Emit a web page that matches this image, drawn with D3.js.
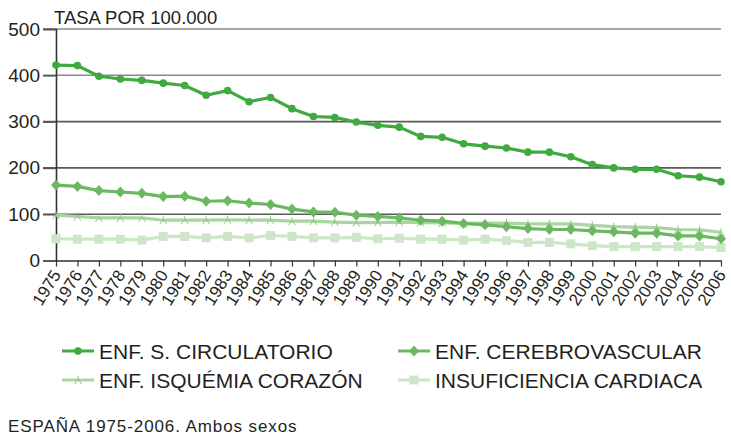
<!doctype html>
<html lang="es">
  <head>
    <meta charset="utf-8">
    <title>Tasa por 100.000 - España 1975-2006</title>
    <script src="https://d3js.org/d3.v7.min.js"></script>
    <style>
      body {
        margin: 0;
        font-family: 'Liberation Sans', Arial, sans-serif;
        background: #fff;
      }
      text { fill: #231f20; }
    </style>
  </head>
  <body>
    <div id="root"></div>
  </body>
  <script>

    //data:
    const years = d3.range(1975, 2007);
    const circulatorio = [422, 421, 398, 392, 389, 383, 378, 357, 367, 343, 352, 328, 311, 309, 299, 292,
      288, 268, 266, 252, 247, 243, 234, 234, 224, 207, 200, 197, 197, 183, 180, 170];
    const cerebrovascular = [163, 160, 151, 148, 145, 138, 139, 128, 129, 124, 121, 111, 105, 104, 98, 95,
      92, 87, 85, 80, 77, 73, 69, 67, 67, 64, 62, 59, 59, 53, 53, 47];
    const isquemia = [98, 95, 92, 92, 92, 87, 87, 87, 88, 87, 87, 85, 85, 83, 82, 82,
      83, 82, 81, 80, 81, 81, 79, 79, 79, 76, 73, 72, 71, 67, 66, 61];
    const insuficiencia = [47, 46, 46, 46, 44, 52, 52, 49, 52, 49, 54, 52, 49, 49, 50, 47,
      48, 46, 46, 44, 46, 43, 39, 39, 36, 32, 30, 30, 30, 30, 30, 28];
    const yTicks = [0, 100, 200, 300, 400, 500];

    const series = [
      { name: 'ENF. S. CIRCULATORIO', values: circulatorio, color: '#3faa3f', symbol: 'circle' },
      { name: 'ENF. CEREBROVASCULAR', values: cerebrovascular, color: '#6cb862', symbol: 'diamond' },
      { name: 'ENF. ISQUÉMIA CORAZÓN', values: isquemia, color: '#a9d6a0', symbol: 'x' },
      { name: 'INSUFICIENCIA CARDIACA', values: insuficiencia, color: '#cde6c7', symbol: 'square' }
    ];

    //constants:
    const width = 731;
    const height = 437;
    const plotLeft = 56, plotRight = 721, plotTop = 29, plotBottom = 260.5;

    //scales:
    const xScale = d3.scaleLinear().domain([1975, 2006]).range([plotLeft, plotRight]);
    const yScale = d3.scaleLinear().domain([0, 500]).range([plotBottom, plotTop]);

    const svg = d3.select('#root')
      .append('svg')
      .attr('width', width)
      .attr('height', height);

    //grid:
    svg.append('g')
      .selectAll('line')
      .data(yTicks.filter(d => d > 0))
      .enter()
      .append('line')
      .attr('x1', 43)
      .attr('x2', plotRight)
      .attr('y1', d => yScale(d))
      .attr('y2', d => yScale(d))
      .attr('stroke', d => d >= 400 ? '#8a8a8a' : '#5a5a5a')
      .attr('stroke-width', 1.6);

    //y axis:
    const yAxis = svg.append('g')
      .attr('transform', `translate(${plotLeft}, 0)`)
      .call(d3.axisLeft(yScale).tickValues(yTicks).tickSize(13).tickPadding(3));
    yAxis.select('.domain').attr('stroke', '#333').attr('stroke-width', 1.6);
    yAxis.selectAll('.tick line').attr('stroke', '#555').attr('stroke-width', 1.6);
    yAxis.selectAll('text')
      .attr('font-size', 19)
      .attr('font-family', "'Liberation Sans', Arial, sans-serif")
      .attr('fill', '#231f20');

    //x axis:
    const xAxis = svg.append('g')
      .attr('transform', `translate(0, ${plotBottom})`)
      .call(d3.axisBottom(xScale).tickValues(years).tickFormat(d3.format('d')).tickSize(6).tickSizeOuter(0));
    xAxis.select('.domain').attr('stroke', '#333').attr('stroke-width', 1.6);
    xAxis.selectAll('.tick line').attr('stroke', '#333').attr('stroke-width', 1.2);
    xAxis.selectAll('text')
      .attr('font-size', 17)
      .attr('font-family', "'Liberation Sans', Arial, sans-serif")
      .attr('fill', d => d === 1996 ? '#3faa3f' : '#231f20')
      .attr('text-anchor', 'end')
      .attr('y', 0)
      .attr('dy', '0.35em')
      .attr('transform', 'translate(0, 11) rotate(-58)');

    svg.append('text')
      .attr('x', 54)
      .attr('y', 24)
      .attr('font-size', 18.5)
      .text('TASA POR 100.000');

    //symbols:
    function drawSymbol(g, type, color, x, y) {
      if (type === 'circle') {
        g.append('circle').attr('cx', x).attr('cy', y).attr('r', 3.8).attr('fill', color);
      } else if (type === 'diamond') {
        g.append('path')
          .attr('d', `M${x},${y - 5.5}L${x + 5},${y}L${x},${y + 5.5}L${x - 5},${y}Z`)
          .attr('fill', color);
      } else if (type === 'square') {
        g.append('rect').attr('x', x - 4.5).attr('y', y - 4.5).attr('width', 9).attr('height', 9).attr('fill', color);
      } else {
        g.append('path')
          .attr('d', `M${x - 3.5},${y + 4}L${x},${y - 1}L${x + 3.5},${y + 4}M${x},${y - 1}L${x},${y - 4}`)
          .attr('fill', 'none')
          .attr('stroke', color)
          .attr('stroke-width', 1);
      }
    }

    const line = d3.line()
      .x((d, i) => xScale(years[i]))
      .y(d => yScale(d));

    //lines (drawn bottom series first):
    series.slice().reverse().forEach(s => {
      const g = svg.append('g');
      g.append('path')
        .datum(s.values)
        .attr('d', line)
        .attr('fill', 'none')
        .attr('stroke', s.color)
        .attr('stroke-width', 3.2)
        .attr('stroke-linejoin', 'round');
      s.values.forEach((v, i) => drawSymbol(g, s.symbol, s.symbol === 'x' ? '#8cc483' : s.color, xScale(years[i]), yScale(v)));
    });

    //legend:
    const legendPos = [[62, 351], [398, 351], [62, 380], [398, 380]];
    series.forEach((s, i) => {
      const [lx, ly] = legendPos[i];
      const g = svg.append('g');
      g.append('line')
        .attr('x1', lx).attr('x2', lx + 32)
        .attr('y1', ly).attr('y2', ly)
        .attr('stroke', s.color)
        .attr('stroke-width', 3);
      drawSymbol(g, s.symbol, s.symbol === 'x' ? '#8cc483' : s.color, lx + 16, ly);
      g.append('text')
        .attr('x', lx + 37)
        .attr('y', ly + 7.5)
        .attr('font-size', 21)
        .text(s.name);
    });

    svg.append('text')
      .attr('x', 8)
      .attr('y', 432)
      .attr('font-size', 17)
      .attr('letter-spacing', 0.9)
      .text('ESPAÑA 1975-2006. Ambos sexos');

  </script>
</html>
